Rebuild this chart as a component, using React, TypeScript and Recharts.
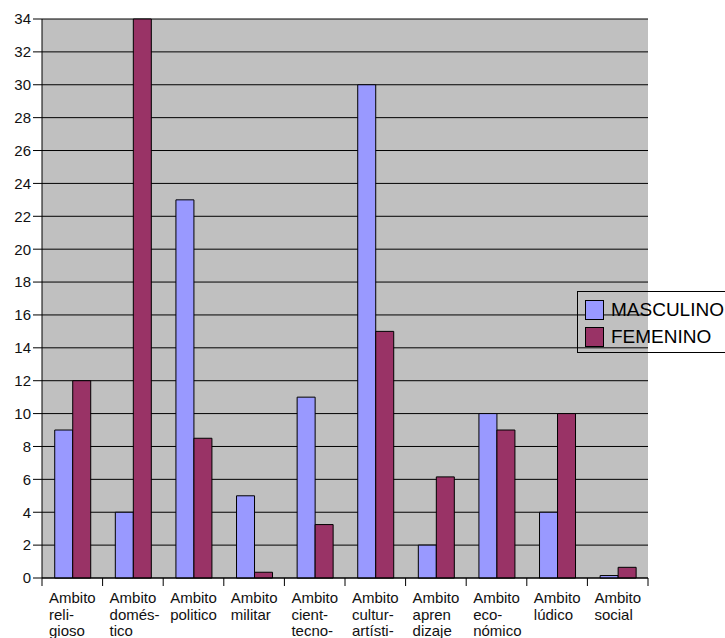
import { BarChart, Bar, XAxis, YAxis, CartesianGrid, Legend } from "recharts";

const CATEGORIES = [
  "religioso", "doméstico", "politico", "militar", "cient-tecno",
  "cultur-artísti", "aprendizaje", "económico", "lúdico", "social",
];

const LABEL_LINES = [
  ["Ambito", "reli-", "gioso"],
  ["Ambito", "domés-", "tico"],
  ["Ambito", "politico"],
  ["Ambito", "militar"],
  ["Ambito", "cient-", "tecno-"],
  ["Ambito", "cultur-", "artísti-"],
  ["Ambito", "apren", "dizaje"],
  ["Ambito", "eco-", "nómico"],
  ["Ambito", "lúdico"],
  ["Ambito", "social"],
];

const MASCULINO = [9, 4, 23, 5, 11, 30, 2, 10, 4, 0.15];
const FEMENINO = [12, 34, 8.5, 0.35, 3.25, 15, 6.15, 9, 10, 0.65];

const Y_TICKS = [0, 2, 4, 6, 8, 10, 12, 14, 16, 18, 20, 22, 24, 26, 28, 30, 32, 34];

const data = CATEGORIES.map((c, i) => ({
  name: c,
  MASCULINO: MASCULINO[i],
  FEMENINO: FEMENINO[i],
}));

const W = 725;
const H = 638;
const PLOT_LEFT = 42;
const PLOT_RIGHT = 648;
const BAND = (PLOT_RIGHT - PLOT_LEFT) / CATEGORIES.length;
const FONT = "'Liberation Sans', Arial, sans-serif";

function CategoryTick(props: any) {
  const { x, y, payload } = props;
  const idx = CATEGORIES.indexOf(payload.value);
  const left = x - BAND / 2;
  const lines = LABEL_LINES[idx] || [];
  return (
    <g>
      <line x1={left} y1={y} x2={left} y2={y + 8} stroke="#000" />
      {idx === CATEGORIES.length - 1 && (
        <line x1={left + BAND} y1={y} x2={left + BAND} y2={y + 8} stroke="#000" />
      )}
      <text x={left + 7} y={y} fontSize={15} fontFamily={FONT} fill="#111">
        {lines.map((l, i) => (
          <tspan key={i} x={left + 7} y={y + 25 + i * 16.5}>{l}</tspan>
        ))}
      </text>
    </g>
  );
}

function LegendBox() {
  const items = [
    { label: "MASCULINO", color: "#9999FF" },
    { label: "FEMENINO", color: "#993366" },
  ];
  return (
    <div style={{ border: "1px solid #000", width: 170, height: 62, boxSizing: "border-box", position: "relative", fontFamily: FONT }}>
      {items.map((it, i) => (
        <div key={it.label} style={{ position: "absolute", left: 7, top: 8 + i * 27, display: "flex", alignItems: "center", height: 20 }}>
          <div style={{ width: 17, height: 18, background: it.color, border: "1px solid #000" }} />
          <span style={{ marginLeft: 7, fontSize: 19, color: "#000", lineHeight: "20px" }}>{it.label}</span>
        </div>
      ))}
    </div>
  );
}

export default function App() {
  return (
    <div style={{ position: "absolute", left: 0, top: 0, width: W, height: H, overflow: "hidden", background: "#fff" }}>
      <BarChart
        width={W}
        height={H}
        data={data}
        margin={{ top: 19, right: W - PLOT_RIGHT, bottom: 0, left: 0 }}
        barGap={0}
        barCategoryGap="21%"
      >
        <CartesianGrid vertical={false} fill="#C0C0C0" stroke="#000" strokeOpacity={1} />
        <XAxis
          dataKey="name"
          interval={0}
          height={60}
          tickSize={0}
          tickMargin={0}
          tickLine={false}
          axisLine={{ stroke: "#000" }}
          tick={<CategoryTick />}
        />
        <YAxis
          width={PLOT_LEFT}
          domain={[0, 34]}
          ticks={Y_TICKS}
          interval={0}
          tickSize={9}
          tickMargin={2}
          axisLine={{ stroke: "#000" }}
          tickLine={{ stroke: "#000" }}
          tick={{ fontSize: 15, fill: "#111", fontFamily: FONT }}
        />
        <Legend
          layout="horizontal"
          verticalAlign="middle"
          align="center"
          wrapperStyle={{ left: 577, top: 291, width: 170 }}
          content={() => <LegendBox />}
        />
        <Bar dataKey="MASCULINO" fill="#9999FF" stroke="#000" strokeWidth={1} isAnimationActive={false} />
        <Bar dataKey="FEMENINO" fill="#993366" stroke="#000" strokeWidth={1} isAnimationActive={false} />
      </BarChart>
    </div>
  );
}
